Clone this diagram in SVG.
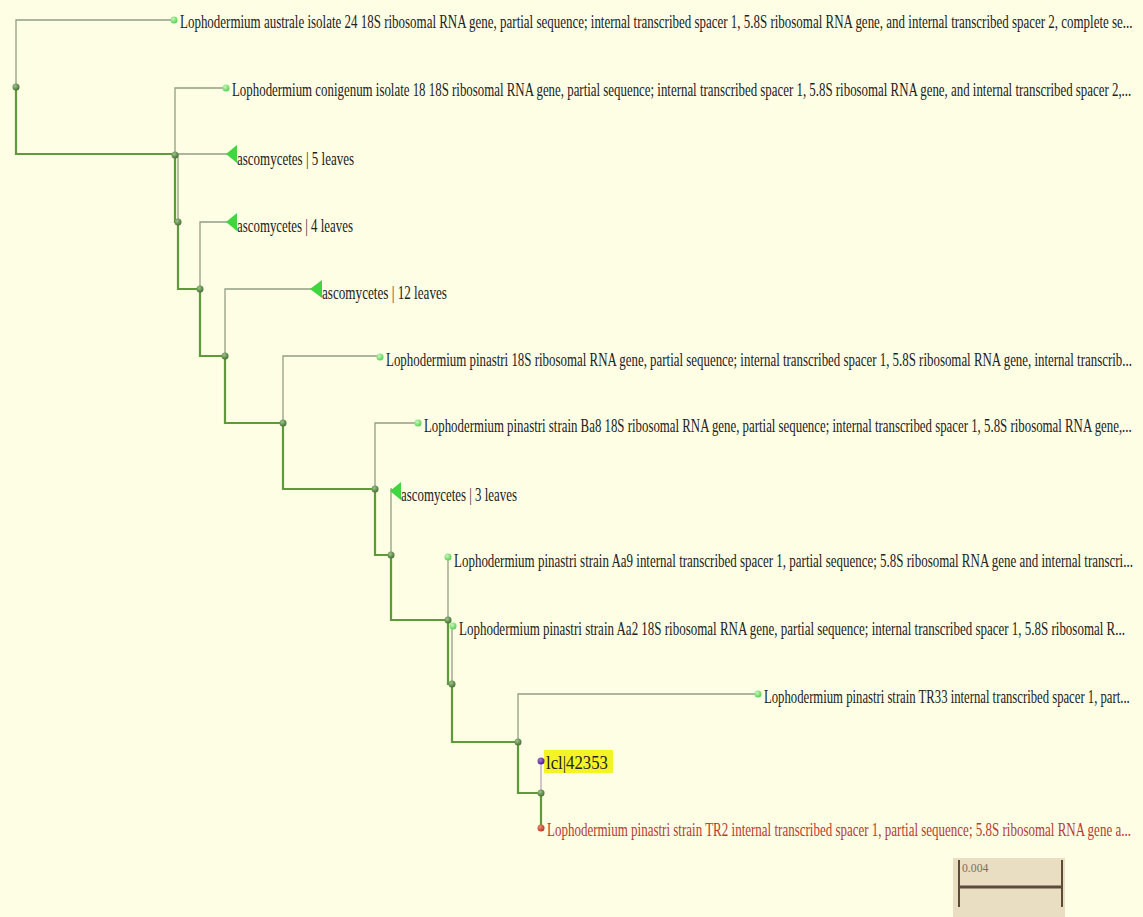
<svg xmlns="http://www.w3.org/2000/svg" width="1143" height="917" viewBox="0 0 1143 917">
  <defs>
    <radialGradient id="gInner" cx="0.38" cy="0.35" r="0.7">
      <stop offset="0" stop-color="#9fc48a"/>
      <stop offset="1" stop-color="#3f6b30"/>
    </radialGradient>
    <radialGradient id="gLeaf" cx="0.38" cy="0.35" r="0.7">
      <stop offset="0" stop-color="#c6f7b8"/>
      <stop offset="1" stop-color="#4fcf4f"/>
    </radialGradient>
    <radialGradient id="gQuery" cx="0.38" cy="0.35" r="0.7">
      <stop offset="0" stop-color="#a37ad8"/>
      <stop offset="1" stop-color="#4a1690"/>
    </radialGradient>
    <radialGradient id="gTarget" cx="0.38" cy="0.35" r="0.7">
      <stop offset="0" stop-color="#f08a70"/>
      <stop offset="1" stop-color="#b8321e"/>
    </radialGradient>
  </defs>
  <style>
    .thin { fill: none; stroke: #939f82; stroke-width: 1.3; }
    .path { fill: none; stroke: #5f9a3a; stroke-width: 2.2; }
    .q { fill: none; stroke: #b9a7bf; stroke-width: 1.3; }
    .inner { fill: url(#gInner); }
    .leaf { fill: url(#gLeaf); }
    .clade { fill: #3fd63f; }
    .lbl { font-family: "Liberation Serif", "Times New Roman", serif; font-size: 18px; fill: #222222; }
    .red { fill: #b83a30; }
  </style>

  <rect x="0" y="0" width="1143" height="917" fill="#fefee5"/>

  <!-- branches -->
  <g id="connectors">
    <!-- side branches -->
    <path class="thin" d="M16 87 V20 H174"/>
    <path class="thin" d="M175 155 V88 H226"/>
    <path class="thin" d="M178 222 V154 H228"/>
    <path class="thin" d="M200 289 V222 H228"/>
    <path class="thin" d="M225 356 V289 H311"/>
    <path class="thin" d="M283 423 V356 H380"/>
    <path class="thin" d="M375 489 V423 H417"/>
    <path class="thin" d="M391 555 V489 H392"/>
    <path class="thin" d="M448 620 V557"/>
    <path class="thin" d="M452 684 V626"/>
    <path class="thin" d="M518 742 V694 H758"/>
    <path class="q" d="M541 793 V761"/>
    <!-- highlighted lineage down to TR2 -->
    <path class="path" d="M16 87 V154 H175 V222 H178 V289 H200 V356 H225 V423 H283 V489 H375 V555 H391 V620 H448 V684 H452 V742 H518 V793 H541 V828"/>
  </g>

  <!-- internal nodes -->
  <g id="node-root"><circle class="inner" cx="16" cy="87" r="3.5"/></g>
  <g id="node-a"><circle class="inner" cx="175" cy="155" r="3.5"/></g>
  <g id="node-b"><circle class="inner" cx="178" cy="222" r="3.5"/></g>
  <g id="node-c"><circle class="inner" cx="200" cy="289" r="3.5"/></g>
  <g id="node-d"><circle class="inner" cx="225" cy="356" r="3.5"/></g>
  <g id="node-e"><circle class="inner" cx="283" cy="423" r="3.5"/></g>
  <g id="node-f"><circle class="inner" cx="375" cy="489" r="3.5"/></g>
  <g id="node-g"><circle class="inner" cx="391" cy="555" r="3.5"/></g>
  <g id="node-h"><circle class="inner" cx="448" cy="620" r="3.5"/></g>
  <g id="node-i"><circle class="inner" cx="452" cy="684" r="3.5"/></g>
  <g id="node-j"><circle class="inner" cx="518" cy="742" r="3.5"/></g>
  <g id="node-k"><circle class="inner" cx="541" cy="793" r="3.5"/></g>

  <!-- leaves and collapsed clades; labels are set in a narrowed serif -->
  <g id="leaf-australe">
    <circle class="leaf" cx="174" cy="20" r="3.5"/>
    <text class="lbl" transform="translate(180,28) scale(0.72,1)" textLength="1323" lengthAdjust="spacingAndGlyphs">Lophodermium australe isolate 24 18S ribosomal RNA gene, partial sequence; internal transcribed spacer 1, 5.8S ribosomal RNA gene, and internal transcribed spacer 2, complete se...</text>
  </g>
  <g id="leaf-conigenum">
    <circle class="leaf" cx="226" cy="88" r="3.5"/>
    <text class="lbl" transform="translate(232,96) scale(0.72,1)" textLength="1249" lengthAdjust="spacingAndGlyphs">Lophodermium conigenum isolate 18 18S ribosomal RNA gene, partial sequence; internal transcribed spacer 1, 5.8S ribosomal RNA gene, and internal transcribed spacer 2,...</text>
  </g>
  <g id="clade-5">
    <polygon class="clade" points="226,154 237,145 237,163"/>
    <text class="lbl" transform="translate(237,165) scale(0.72,1)" textLength="162.5" lengthAdjust="spacingAndGlyphs">ascomycetes | 5 leaves</text>
  </g>
  <g id="clade-4">
    <polygon class="clade" points="226,222 237,213 237,231"/>
    <text class="lbl" transform="translate(237,232) scale(0.72,1)" textLength="161" lengthAdjust="spacingAndGlyphs">ascomycetes | 4 leaves</text>
  </g>
  <g id="clade-12">
    <polygon class="clade" points="310,289 322,280 322,298"/>
    <text class="lbl" transform="translate(322,299) scale(0.72,1)" textLength="173.6" lengthAdjust="spacingAndGlyphs">ascomycetes | 12 leaves</text>
  </g>
  <g id="leaf-pinastri">
    <circle class="leaf" cx="380" cy="357" r="3.5"/>
    <text class="lbl" transform="translate(386,366) scale(0.72,1)" textLength="1036" lengthAdjust="spacingAndGlyphs">Lophodermium pinastri 18S ribosomal RNA gene, partial sequence; internal transcribed spacer 1, 5.8S ribosomal RNA gene, internal transcrib...</text>
  </g>
  <g id="leaf-ba8">
    <circle class="leaf" cx="418" cy="423" r="3.5"/>
    <text class="lbl" transform="translate(424,432) scale(0.72,1)" textLength="983" lengthAdjust="spacingAndGlyphs">Lophodermium pinastri strain Ba8 18S ribosomal RNA gene, partial sequence; internal transcribed spacer 1, 5.8S ribosomal RNA gene,...</text>
  </g>
  <g id="clade-3">
    <polygon class="clade" points="390,491 401,482 401,500"/>
    <text class="lbl" transform="translate(401,501) scale(0.72,1)" textLength="161" lengthAdjust="spacingAndGlyphs">ascomycetes | 3 leaves</text>
  </g>
  <g id="leaf-aa9">
    <circle class="leaf" cx="448" cy="557" r="3.5"/>
    <text class="lbl" transform="translate(454,567) scale(0.72,1)" textLength="943" lengthAdjust="spacingAndGlyphs">Lophodermium pinastri strain Aa9 internal transcribed spacer 1, partial sequence; 5.8S ribosomal RNA gene and internal transcri...</text>
  </g>
  <g id="leaf-aa2">
    <circle class="leaf" cx="453" cy="626" r="3.5"/>
    <text class="lbl" transform="translate(459,635) scale(0.72,1)" textLength="925" lengthAdjust="spacingAndGlyphs">Lophodermium pinastri strain Aa2 18S ribosomal RNA gene, partial sequence; internal transcribed spacer 1, 5.8S ribosomal R...</text>
  </g>
  <g id="leaf-tr33">
    <circle class="leaf" cx="758" cy="694" r="3.5"/>
    <text class="lbl" transform="translate(764,703) scale(0.72,1)" textLength="508" lengthAdjust="spacingAndGlyphs">Lophodermium pinastri strain TR33 internal transcribed spacer 1, part...</text>
  </g>
  <g id="leaf-query">
    <rect x="544" y="750" width="69" height="23" fill="#f4f424"/>
    <circle cx="541" cy="761" r="3.5" fill="url(#gQuery)"/>
    <text class="lbl" transform="translate(546,769) scale(0.72,1)" textLength="86" lengthAdjust="spacingAndGlyphs">lcl|42353</text>
  </g>
  <g id="leaf-tr2">
    <circle cx="541" cy="828" r="3.5" fill="url(#gTarget)"/>
    <text class="lbl red" transform="translate(547,836) scale(0.72,1)" textLength="811" lengthAdjust="spacingAndGlyphs">Lophodermium pinastri strain TR2 internal transcribed spacer 1, partial sequence; 5.8S ribosomal RNA gene a...</text>
  </g>

  <!-- scale bar -->
  <g id="scale-bar">
    <rect x="953" y="858" width="112" height="59" fill="#e9ddc2"/>
    <path d="M959 860 V907 M1062 860 V907" stroke="#5b4b38" stroke-width="2" fill="none"/>
    <path d="M959 887 H1062" stroke="#5b4b38" stroke-width="3.2" fill="none"/>
    <text transform="translate(962,872) scale(0.8,1)" font-family="Liberation Serif, serif" font-size="13" fill="#7d6e5c" textLength="33" lengthAdjust="spacingAndGlyphs">0.004</text>
  </g>
</svg>
